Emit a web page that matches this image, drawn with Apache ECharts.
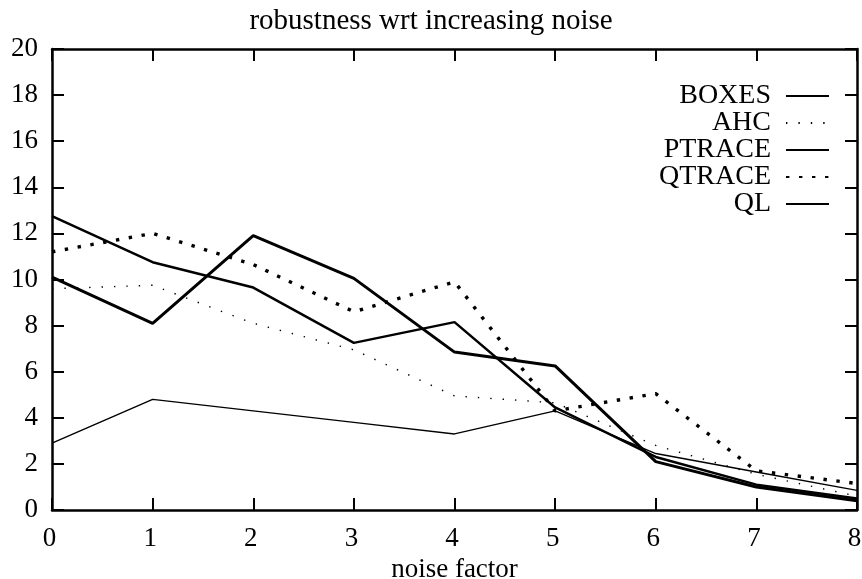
<!DOCTYPE html>
<html>
<head>
<meta charset="utf-8">
<script src="https://cdn.jsdelivr.net/npm/echarts@6/dist/echarts.min.js"></script>
<style>
html,body{margin:0;padding:0;background:#fff;}
#chart{width:862px;height:579px;}
</style>
</head>
<body>
<div id="chart"></div>
<script>
const xValues = [0, 1, 2, 3, 4, 5, 6, 7, 8];
const boxes  = [2.9, 4.8, 4.3, 3.8, 3.3, 4.3, 2.45, 1.65, 0.85];
const ahc    = [9.6, 9.75, 8.1, 6.95, 4.95, 4.65, 2.8, 1.55, 0.6];
const ptrace = [12.75, 10.75, 9.65, 7.25, 8.15, 4.45, 2.3, 1.1, 0.5];
const qtrace = [11.2, 12.0, 10.65, 8.6, 9.9, 4.3, 5.05, 1.7, 1.15];
const ql     = [10.1, 8.1, 11.9, 10.05, 6.85, 6.25, 2.1, 1.0, 0.4];
const seriesNames = ['BOXES', 'AHC', 'PTRACE', 'QTRACE', 'QL'];
const titleText = 'robustness wrt increasing noise';
const xName = 'noise factor';

const FONT = 'Liberation Serif';
const pairs = arr => xValues.map((x, i) => [x, arr[i]]);
const styles = [
  {width: 1.4, type: 'solid'},
  {width: 1.4, type: [1.4, 11]},
  {width: 2.5, type: 'solid'},
  {width: 3.4, type: [3.4, 9.6]},
  {width: 3, type: 'solid'}
];
const datas = [boxes, ahc, ptrace, qtrace, ql];

function axisCommon() {
  return {
    axisLine: {show: true, onZero: false, lineStyle: {color: '#000', width: 2.5}},
    axisTick: {show: true, inside: true, length: 12, lineStyle: {color: '#000', width: 2}},
    splitLine: {show: false}
  };
}

const chart = echarts.init(document.getElementById('chart'), null, {renderer: 'canvas'});
chart.setOption({
  animation: false,
  backgroundColor: '#fff',
  title: {
    text: titleText, left: 'center', top: 2,
    textStyle: {fontFamily: FONT, fontSize: 29, fontWeight: 'normal', color: '#000'}
  },
  grid: {left: 52, right: 5, top: 49, bottom: 69, outerBoundsMode: 'none', containLabel: false},
  legend: {
    orient: 'vertical', right: 27, top: 77, align: 'right',
    itemWidth: 43, itemHeight: 12, itemGap: -1,
    itemStyle: {opacity: 0, color: 'transparent', borderWidth: 0},
    textStyle: {fontFamily: FONT, fontSize: 28, color: '#000', padding: [0, 10, 0, 0], lineHeight: 25},
    data: seriesNames
  },
  xAxis: [
    Object.assign({
      type: 'value', min: 0, max: 8, interval: 1, position: 'bottom',
      name: xName, nameLocation: 'middle', nameGap: 41,
      nameTextStyle: {fontFamily: FONT, fontSize: 27, color: '#000'},
      axisLabel: {fontFamily: FONT, fontSize: 27, color: '#000', margin: 15, padding: [0, 5, 0, 0]}
    }, axisCommon()),
    Object.assign({
      type: 'value', min: 0, max: 8, interval: 1, position: 'top',
      axisLabel: {show: false}
    }, axisCommon())
  ],
  yAxis: [
    Object.assign({
      type: 'value', min: 0, max: 20, interval: 2, position: 'left',
      axisLabel: {fontFamily: FONT, fontSize: 27, color: '#000', margin: 14}
    }, axisCommon()),
    Object.assign({
      type: 'value', min: 0, max: 20, interval: 2, position: 'right',
      axisLabel: {show: false}
    }, axisCommon())
  ],
  series: seriesNames.map((n, i) => ({
    name: n, type: 'line', xAxisIndex: 0, yAxisIndex: 0,
    data: pairs(datas[i]), symbol: 'none', showSymbol: false,
    color: '#000',
    lineStyle: {color: '#000', width: styles[i].width, type: styles[i].type, cap: 'butt'},
    itemStyle: {color: '#000'}
  }))
});
</script>
</body>
</html>
